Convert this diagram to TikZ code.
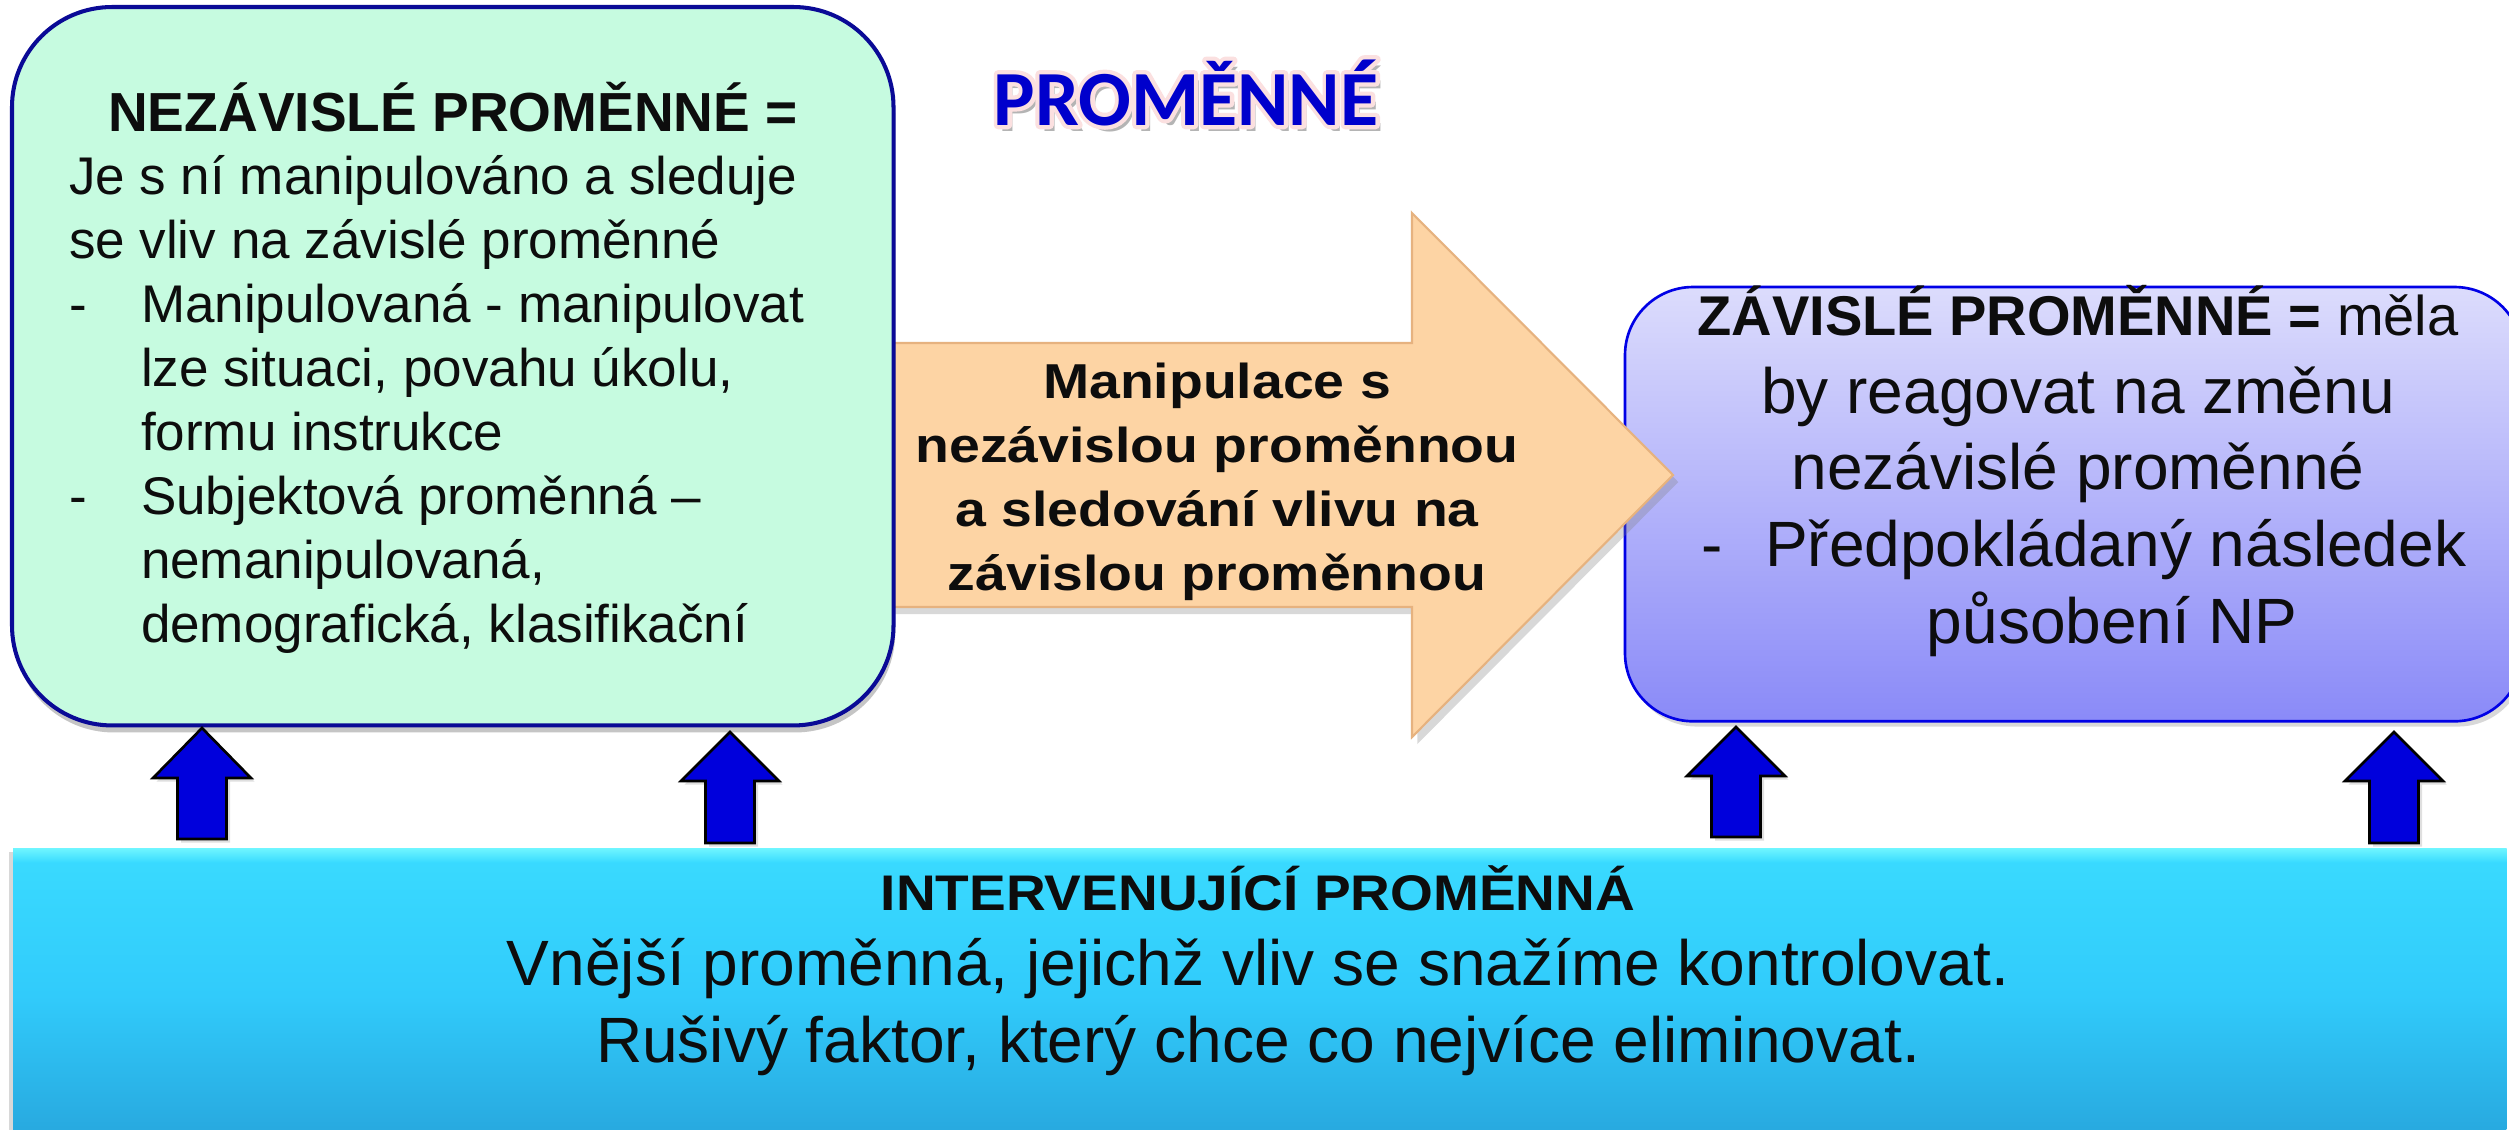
\documentclass[tikz,border=0pt]{standalone}
\usepackage{fontspec}
\setmainfont{Liberation Sans}
\newfontfamily\titlefont{Carlito}
\newfontfamily\arrowfont[FakeStretch=1.13]{Liberation Sans}
\newfontfamily\interfont[FakeStretch=1.10]{Liberation Sans}
\usetikzlibrary{shadows}
\definecolor{mint}{HTML}{C6FBE0}
\definecolor{navy}{HTML}{0A0A96}
\definecolor{peach}{HTML}{FDD4A4}
\definecolor{peachedge}{HTML}{E6B27F}
\definecolor{lavtop}{HTML}{DCDCFC}
\definecolor{lavbot}{HTML}{8A8AF8}
\definecolor{lavedge}{HTML}{0000E6}
\definecolor{cyanhl}{HTML}{70F6FF}
\definecolor{cyantop}{HTML}{3ADBFF}
\definecolor{cyanmid}{HTML}{31CBFB}
\definecolor{cyanbot}{HTML}{27A6DD}
\definecolor{arrblue}{HTML}{0000DC}
\definecolor{titleblue}{HTML}{0000CC}
\definecolor{titlepink}{HTML}{FBE0E0}
\definecolor{titleshadow}{HTML}{B4B4B4}
\definecolor{ink}{HTML}{0D0D0D}
\newcommand\fsz[2]{\fontsize{#1pt}{#2pt}\selectfont}
\newcommand\uparr[4]{% cx, tip, head base, shaft bottom
  \filldraw[blockup] (#1,#2) -- (#1+49,#3) -- (#1+24.5,#3) -- (#1+24.5,#4)
    -- (#1-24.5,#4) -- (#1-24.5,#3) -- (#1-49,#3) -- cycle;}
\newcommand\outlinetext[1]{\special{pdf:code q 1 j 1 J 2.4 w 0.984 0.878 0.878 RG 2 Tr}#1\special{pdf:code 0 Tr Q}}
\newcommand\titleword{\titlefont\bfseries\fsz{22.2}{26}PROMĚNNÉ}
\begin{document}
\begin{tikzpicture}[x=0.01cm,y=-0.01cm,
  ln/.style={anchor=base, inner sep=0pt, outer sep=0pt, text=ink},
  lln/.style={anchor=base west, inner sep=0pt, outer sep=0pt, text=ink},
  boxnode/.style={anchor=north west, inner sep=0pt, outer sep=0pt},
  blockup/.style={fill=arrblue, draw=black, line width=0.75pt, line join=miter,
    drop shadow={shadow xshift=1pt, shadow yshift=-1pt, opacity=0.25}}]
\useasboundingbox (0,0) rectangle (2509,1129);
\fill[white] (0,0) rectangle (2509,1129);
\clip (0,0) rectangle (2509,1129);

% right (dependent) box
\node[boxnode, draw=lavedge, line width=0.75pt, top color=lavtop, bottom color=lavbot,
  rounded corners=0.68cm, minimum width=8.97cm, minimum height=4.34cm,
  drop shadow={shadow xshift=1pt, shadow yshift=-1.5pt, opacity=0.3}] (zav) at (1625,287) {};

% big peach arrow
\filldraw[fill=peach, draw=peachedge, line width=0.6pt,
  drop shadow={shadow xshift=1.5pt, shadow yshift=-2pt, opacity=0.3}]
  (890,343) -- (1412,343) -- (1412,213) -- (1673,475) -- (1412,737) -- (1412,607) -- (890,607) -- cycle;

% left (independent) box
\node[boxnode, draw=navy, line width=1.15pt, fill=mint, rounded corners=1cm,
  minimum width=8.81cm, minimum height=7.18cm,
  drop shadow={shadow xshift=0.5pt, shadow yshift=-2pt, opacity=0.45}] (nez) at (12,7) {};

% bottom (intervening) box
\node[boxnode, minimum width=24.92cm, minimum height=2.95cm,
  top color=cyantop, bottom color=cyanbot, middle color=cyanmid,
  drop shadow={shadow xshift=-1pt, shadow yshift=-1pt, opacity=0.3}] (int) at (13,848) {};
\shade[top color=cyanhl, bottom color=cyantop] (int.north west) rectangle ([yshift=-0.14cm]int.north east);

% up arrows
\uparr{202}{728}{778}{839}
\uparr{730}{732}{781}{843}
\uparr{1736}{727}{776}{837}
\uparr{2394}{732}{781}{843}

% title: shadow, pink outline, blue letters in one node
\node[ln] (title) at (1186,125)
  {\rlap{\hspace*{0.05cm}\raisebox{-0.06cm}{\color{titleshadow}\titleword}}%
   \rlap{\color{titlepink}\outlinetext{\titleword}}%
   {\color{titleblue}\titleword}};

% left box text
\node[ln] (g1) at (453,131) {\bfseries\fsz{15.65}{18}NEZÁVISLÉ PROMĚNNÉ =};
\node[lln] (g2) at (69,194) {\fsz{15.08}{18}Je s ní manipulováno a sleduje};
\node[lln] (g3) at (69,258) {\fsz{15.08}{18}se vliv na závislé proměnné};
\node[lln] (g4d) at (69,322) {\fsz{15.08}{18}-};
\node[lln] (g4) at (141,322) {\fsz{15.08}{18}Manipulovaná - manipulovat};
\node[lln] (g5) at (141,386) {\fsz{15.08}{18}lze situaci, povahu úkolu,};
\node[lln] (g6) at (141,450) {\fsz{15.08}{18}formu instrukce};
\node[lln] (g7d) at (69,514) {\fsz{15.08}{18}-};
\node[lln] (g7) at (141,514) {\fsz{15.08}{18}Subjektová proměnná –};
\node[lln] (g8) at (141,578) {\fsz{15.08}{18}nemanipulovaná,};
\node[lln] (g9) at (141,642) {\fsz{15.08}{18}demografická, klasifikační};

% arrow text
\node[ln] (a1) at (1217,398) {\arrowfont\bfseries\fsz{13.94}{18}Manipulace s};
\node[ln] (a2) at (1217,462) {\arrowfont\bfseries\fsz{13.94}{18}nezávislou proměnnou};
\node[ln] (a3) at (1217,526) {\arrowfont\bfseries\fsz{13.94}{18}a sledování vlivu na};
\node[ln] (a4) at (1217,590) {\arrowfont\bfseries\fsz{13.94}{18}závislou proměnnou};

% right box text
\node[ln] (z1) at (2078,335) {\fsz{15.93}{18}\textbf{ZÁVISLÉ PROMĚNNÉ =} měla};
\node[ln] (z2) at (2078,413) {\fsz{18.21}{21}by reagovat na změnu};
\node[ln] (z3) at (2078,489) {\fsz{18.21}{21}nezávislé proměnné};
\node[lln] (z4d) at (1701,566) {\fsz{18.21}{21}-};
\node[lln] (z4) at (1765,566) {\fsz{18.21}{21}Předpokládaný následek};
\node[ln] (z5) at (2112,643) {\fsz{18.21}{21}působení NP};

% bottom box text
\node[ln] (i1) at (1258,910) {\interfont\bfseries\fsz{14.23}{18}INTERVENUJÍCÍ PROMĚNNÁ};
\node[ln] (i2) at (1258,985) {\fsz{18.21}{21}Vnější proměnná, jejichž vliv se snažíme kontrolovat.};
\node[ln] (i3) at (1258,1062) {\fsz{18.21}{21}Rušivý faktor, který chce co nejvíce eliminovat.};
\end{tikzpicture}
\end{document}
